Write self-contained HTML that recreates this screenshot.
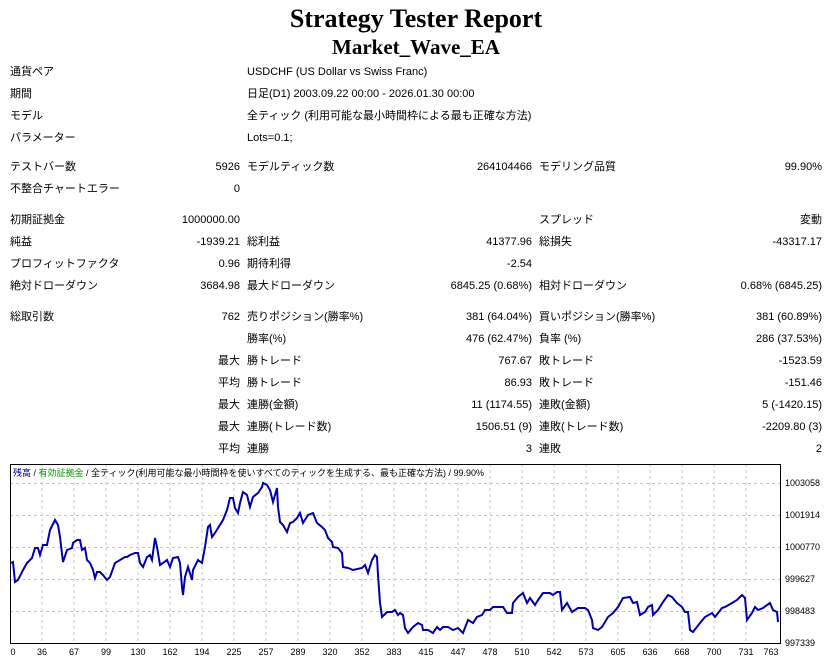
<!DOCTYPE html>
<html><head><meta charset="utf-8"><style>
body{margin:0;width:832px;height:664px;background:#fff;position:relative;overflow:hidden;font-family:"Liberation Sans","Noto Sans CJK JP",sans-serif;font-size:11px;color:#000}
.t{position:absolute;white-space:nowrap;line-height:14px}
.r{text-align:right}
h1,h2{position:absolute;left:0;width:832px;text-align:center;margin:0;font-family:"Liberation Serif",serif;font-weight:bold}
</style></head><body>
<h1 style="top:4px;font-size:26px;line-height:30px">Strategy Tester Report</h1>
<h2 style="top:34px;font-size:21px;line-height:26px">Market_Wave_EA</h2>
<div id="rows"></div>
<script>
const R=[
[65,"通貨ペア","",{l:247,t:"USDCHF (US Dollar vs Swiss Franc)"}],
[87,"期間","",{l:247,t:"日足(D1) 2003.09.22 00:00 - 2026.01.30 00:00"}],
[109,"モデル","",{l:247,t:"全ティック (利用可能な最小時間枠による最も正確な方法)"}],
[131,"パラメーター","",{l:247,t:"Lots=0.1;"}],
[160,"テストバー数","5926","モデルティック数","264104466","モデリング品質","99.90%"],
[182,"不整合チャートエラー","0"],
[213,"初期証拠金","1000000.00","","","スプレッド","変動"],
[235,"純益","-1939.21","総利益","41377.96","総損失","-43317.17"],
[257,"プロフィットファクタ","0.96","期待利得","-2.54"],
[279,"絶対ドローダウン","3684.98","最大ドローダウン","6845.25 (0.68%)","相対ドローダウン","0.68% (6845.25)"],
[310,"総取引数","762","売りポジション(勝率%)","381 (64.04%)","買いポジション(勝率%)","381 (60.89%)"],
[332,"","","勝率(%)","476 (62.47%)","負率 (%)","286 (37.53%)"],
[354,"","最大","勝トレード","767.67","敗トレード","-1523.59"],
[376,"","平均","勝トレード","86.93","敗トレード","-151.46"],
[398,"","最大","連勝(金額)","11 (1174.55)","連敗(金額)","5 (-1420.15)"],
[420,"","最大","連勝(トレード数)","1506.51 (9)","連敗(トレード数)","-2209.80 (3)"],
[442,"","平均","連勝","3","連敗","2"]];
let h="";
for(const r of R){const y=r[0];
h+=`<div class="t" style="top:${y}px;left:10px">${r[1]}</div>`;
if(typeof r[3]==="object"){h+=`<div class="t" style="top:${y}px;left:247px">${r[3].t}</div>`;continue;}
if(r[2])h+=`<div class="t r" style="top:${y}px;right:${832-240}px">${r[2]}</div>`;
if(r[3])h+=`<div class="t" style="top:${y}px;left:247px">${r[3]}</div>`;
if(r[4])h+=`<div class="t r" style="top:${y}px;right:${832-532}px">${r[4]}</div>`;
if(r[5])h+=`<div class="t" style="top:${y}px;left:539px">${r[5]}</div>`;
if(r[6])h+=`<div class="t r" style="top:${y}px;right:${832-822}px">${r[6]}</div>`;}
document.getElementById("rows").innerHTML=h;
</script>
<svg style="position:absolute;left:0;top:0" width="832" height="664" font-family="Liberation Sans, Noto Sans CJK JP, sans-serif">
<g stroke="#c8c8c8" stroke-dasharray="3,3" stroke-width="1">
<path d="M42 464V643M74 464V643M106 464V643M138 464V643M170 464V643M202 464V643M234 464V643M266 464V643M298 464V643M330 464V643M362 464V643M394 464V643M426 464V643M458 464V643M490 464V643M522 464V643M554 464V643M586 464V643M618 464V643M650 464V643M682 464V643M714 464V643M746 464V643"/>
<path d="M10 483.5H781M10 515.5H781M10 547.5H781M10 579.5H781M10 611.5H781"/>
</g>
<rect x="10.5" y="464.5" width="770" height="179" fill="none" stroke="#000"/>
<polyline fill="none" stroke="#0000aa" stroke-width="2" points="11,563 13,562 15,582 18,580 23,570 27,563 32,558 35,548 38,548 40,555 43,545 47,545 50,530 55,520 58,525 60,537 63,562 67,550 72,548 73,543 77,540 80,540 82,550 85,548 87,560 90,563 93,570 95,578 97,572 100,572 103,575 107,580 110,577 115,563 120,560 125,557 127,557 130,555 135,553 138,553 140,563 143,567 147,557 150,555 152,560 155,538 157,547 160,565 163,563 167,560 170,567 173,558 178,557 180,563 182,587 183,595 185,577 188,567 192,580 193,570 198,560 202,563 205,547 208,527 210,525 212,537 215,533 218,528 223,520 227,510 230,498 233,498 235,508 238,513 240,503 243,492 247,495 250,507 253,497 258,493 262,487 263,483 267,485 270,490 273,502 277,488 278,507 280,522 283,525 287,532 290,523 293,522 297,518 300,513 303,523 308,515 313,513 317,523 322,527 325,530 328,538 332,542 333,547 338,548 342,553 343,567 348,568 353,570 362,568 365,565 368,573 372,560 375,555 377,557 378,575 380,603 382,617 387,612 392,612 395,610 398,615 400,613 403,615 405,628 408,633 413,627 418,623 422,625 423,630 428,630 433,633 437,627 440,630 443,627 448,627 453,630 458,628 463,633 468,620 473,623 477,617 482,615 485,610 490,610 493,607 498,607 503,607 507,613 512,613 513,603 518,597 523,593 527,603 530,598 535,605 538,600 543,593 550,593 553,595 557,592 560,592 562,610 567,603 572,612 578,608 585,608 588,610 592,620 593,628 598,630 602,627 608,617 613,613 618,607 623,598 630,597 633,603 637,602 640,615 645,612 648,607 652,605 653,615 658,610 663,602 668,595 672,597 677,603 682,607 685,612 688,612 690,630 693,632 700,623 705,617 712,613 715,617 722,608 725,607 732,603 737,600 742,595 745,598 747,620 752,613 755,607 758,610 763,608 767,605 770,603 773,610 777,612 778,622"/>
<text x="13" y="476" font-size="9"><tspan fill="#00008b">残高</tspan><tspan fill="#000"> / </tspan><tspan fill="#009900">有効証拠金</tspan><tspan fill="#000"> / 全ティック(利用可能な最小時間枠を使いすべてのティックを生成する、最も正確な方法) / 99.90%</tspan></text>
<g font-size="9" fill="#000">
<text x="785" y="486">1003058</text><text x="785" y="518">1001914</text><text x="785" y="550">1000770</text><text x="785" y="582">999627</text><text x="785" y="614">998483</text><text x="785" y="646">997339</text>
</g>
<g font-size="9" fill="#000" text-anchor="middle">
<text x="13" y="655">0</text><text x="42" y="655">36</text><text x="74" y="655">67</text><text x="106" y="655">99</text><text x="138" y="655">130</text><text x="170" y="655">162</text><text x="202" y="655">194</text><text x="234" y="655">225</text><text x="266" y="655">257</text><text x="298" y="655">289</text><text x="330" y="655">320</text><text x="362" y="655">352</text><text x="394" y="655">383</text><text x="426" y="655">415</text><text x="458" y="655">447</text><text x="490" y="655">478</text><text x="522" y="655">510</text><text x="554" y="655">542</text><text x="586" y="655">573</text><text x="618" y="655">605</text><text x="650" y="655">636</text><text x="682" y="655">668</text><text x="714" y="655">700</text><text x="746" y="655">731</text><text x="771" y="655">763</text>
</g>
</svg>
</body></html>
